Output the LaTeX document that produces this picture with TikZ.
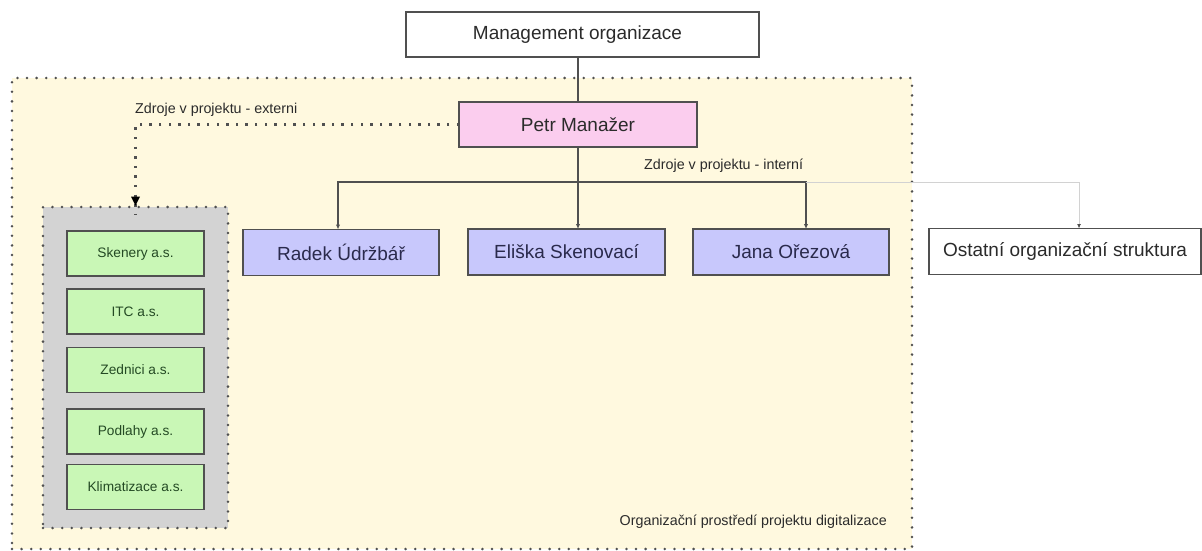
\documentclass[tikz,border=0pt]{standalone}
\usepackage{fontspec}
\setmainfont{Liberation Sans}
\usetikzlibrary{arrows.meta}
\definecolor{yellowbg}{HTML}{FFF9DF}
\definecolor{graybg}{HTML}{D3D3D3}
\definecolor{greenbg}{HTML}{C9F7B6}
\definecolor{bluebg}{HTML}{C8C8FC}
\definecolor{pinkbg}{HTML}{FBCDEE}
\definecolor{edge}{HTML}{505050}
\definecolor{txt}{HTML}{2B2B2B}
\definecolor{greentxt}{HTML}{244A24}
\definecolor{bluetxt}{HTML}{2A2A4C}
\definecolor{faint}{HTML}{D2D2D2}
\tikzset{
  box/.style={draw=edge, line width=1.4pt, inner sep=0pt, outer sep=0pt, text=txt,
    font=\fontsize{19}{22}\selectfont},
  bigbox/.style={box, minimum height=46pt},
  personbox/.style={bigbox, fill=bluebg, text=bluetxt, minimum width=197pt},
  firmbox/.style={box, fill=greenbg, text=greentxt, minimum width=137pt, minimum height=45pt,
    font=\fontsize{13.7}{16}\selectfont},
  dotline/.style={draw=edge, line width=2.8pt, line cap=round, dash pattern=on 0pt off 9.6pt},
  dashline/.style={draw=edge, line width=2.2pt, dash pattern=on 2.4pt off 7.2pt},
  conn/.style={draw=edge, line width=1.1pt},
  arr/.style={-{Latex[length=5pt,width=4.5pt]}},
  lbl/.style={text=txt, inner sep=0pt, font=\fontsize{14.3}{17}\selectfont},
}
\begin{document}
\begin{tikzpicture}[x=1pt,y=-1pt]
\useasboundingbox (0,0) rectangle (1202,551);
\fill[white] (0,0) rectangle (1202,551);

% environment region
\node[dotline, fill=yellowbg, minimum width=900pt, minimum height=471pt, inner sep=0pt] (env) at (462,313.5) {};
\node[lbl, anchor=east] (envlbl) at (887,522) {Organizační prostředí projektu digitalizace};

% external resources group
\node[dotline, fill=graybg, minimum width=185pt, minimum height=321pt, inner sep=0pt] (ext) at (135.5,367.5) {};
\node[firmbox] (f1) at (135.5,253.5) {Skenery a.s.};
\node[firmbox] (f2) at (135.5,311.5) {ITC a.s.};
\node[firmbox] (f3) at (135.5,370) {Zednici a.s.};
\node[firmbox] (f4) at (135.5,431.5) {Podlahy a.s.};
\node[firmbox] (f5) at (135.5,487) {Klimatizace a.s.};

% top
\node[bigbox, fill=white, minimum width=353pt, minimum height=45pt] (mgmt) at (582.5,34.5) {\hspace*{-10pt}Management organizace};
\node[bigbox, fill=pinkbg, minimum width=238pt, minimum height=45pt] (petr) at (578,124.5) {Petr Manažer};

% people
\node[personbox, minimum width=196pt] (rad) at (341,252.5) {Radek Údržbář};
\node[personbox] (eli) at (566.5,252) {Eliška Skenovací};
\node[personbox, minimum width=196pt] (jana) at (791,252) {Jana Ořezová};
\node[bigbox, fill=white, minimum width=272pt] (ost) at (1065,251.5) {Ostatní organizační struktura};

% labels
\node[lbl, anchor=west] (lext) at (135,110) {Zdroje v projektu - externi};
\node[lbl, anchor=west] (lint) at (644,165.5) {Zdroje v projektu - interní};

% connectors
\coordinate (bus) at (578,182);
\draw[conn] (petr.north |- mgmt.south) -- (petr.north);
\draw[conn, arr] (petr.south) -- (petr.south |- eli.north);
\draw[conn, arr] (bus) -| ([xshift=-3pt]rad.north);
\draw[conn, arr] (bus) -| ([xshift=15pt]jana.north);
\draw[draw=faint, line width=1pt, -{Latex[length=4.5pt,width=4pt,color=edge]}] ([xshift=15pt]jana.north |- bus) -| ([xshift=14pt]ost.north);
\draw[dashline] (petr.west) -| ([yshift=-9pt]ext.north);
\draw[draw=none, fill=black] (ext.north) -- ++(-4.5,-9) -- ++(9,0) -- cycle;
\end{tikzpicture}
\end{document}
